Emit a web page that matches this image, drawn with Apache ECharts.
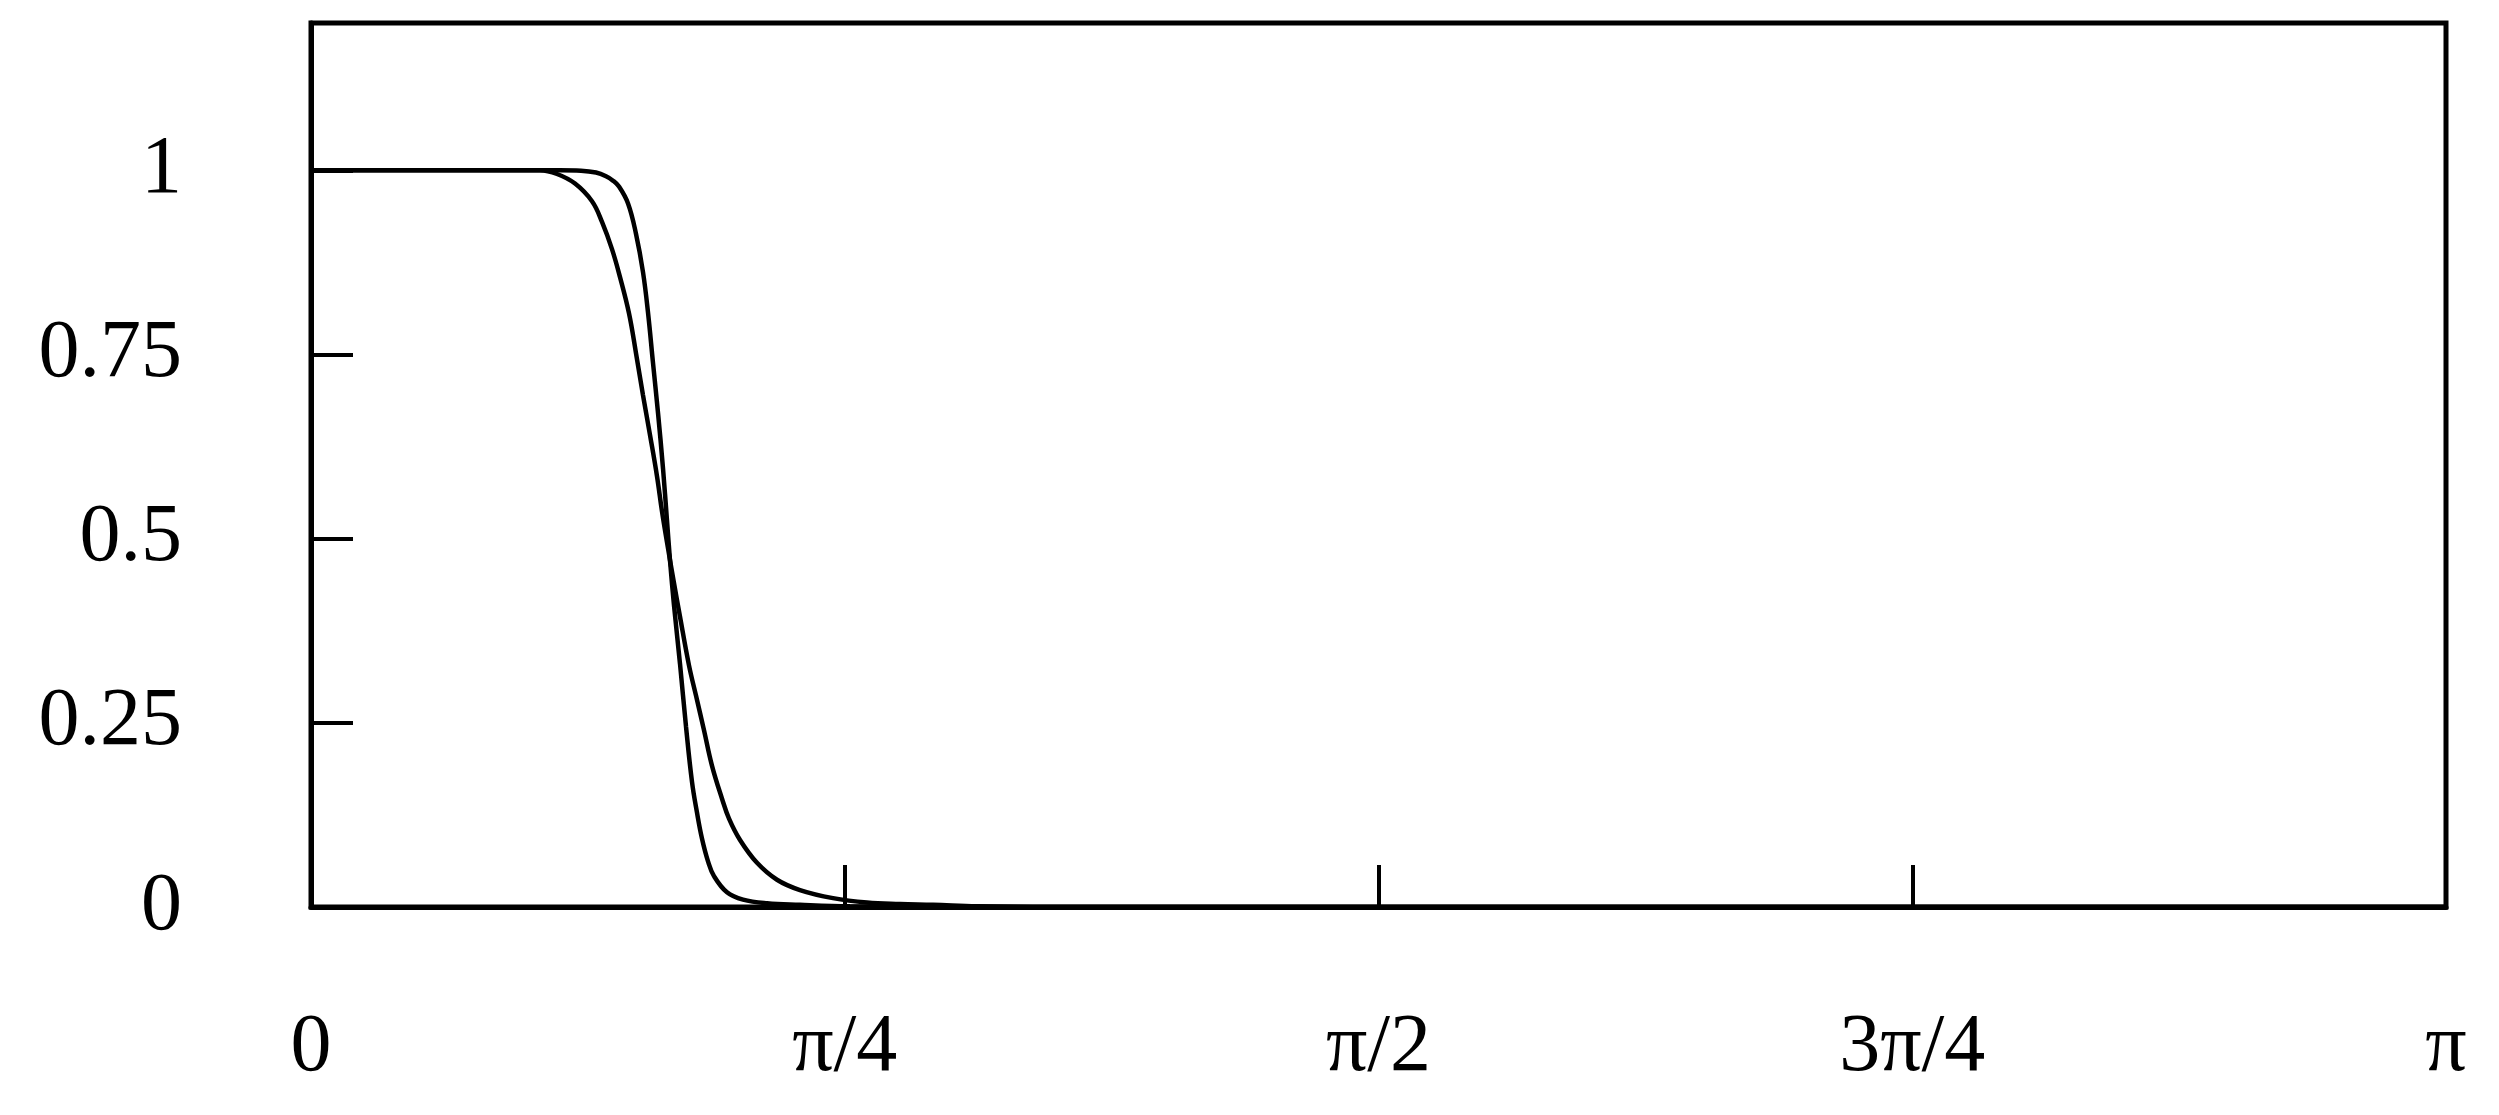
<!DOCTYPE html>
<html>
<head>
<meta charset="utf-8">
<script src="https://cdn.jsdelivr.net/npm/echarts@6/dist/echarts.min.js"></script>
<style>
html,body{margin:0;padding:0;background:#fff;}
#chart{width:2499px;height:1115px;}
</style>
</head>
<body>
<div id="chart"></div>
<script>
// x values in radians, y values
const steepX = [0, 0.3664, 0.3973, 0.4194, 0.4341, 0.4444, 0.4532, 0.4665, 0.4782, 0.4885, 0.4959, 0.5032, 0.5106, 0.5180, 0.5238, 0.5283, 0.5341, 0.5430, 0.5518, 0.5606, 0.5680, 0.5753, 0.5842, 0.5930, 0.6121, 0.6357, 0.6710, 0.7195, 0.7931, 0.9403, 3.1416];
const steepY = [1, 1, 0.9995, 0.997, 0.992, 0.986, 0.978, 0.955, 0.914, 0.862, 0.807, 0.739, 0.671, 0.595, 0.525, 0.470, 0.410, 0.330, 0.245, 0.170, 0.128, 0.093, 0.062, 0.042, 0.020, 0.010, 0.005, 0.003, 0.001, 0, 0];
const gentleX = [0, 0.3370, 0.3620, 0.3885, 0.4135, 0.4282, 0.4429, 0.4547, 0.4679, 0.4782, 0.4885, 0.4988, 0.5091, 0.5165, 0.5253, 0.5341, 0.5430, 0.5562, 0.5665, 0.5783, 0.5900, 0.6048, 0.6151, 0.6313, 0.6563, 0.6857, 0.7195, 0.7681, 0.8181, 0.8667, 0.9153, 0.98, 1.087, 3.1416];
const gentleY = [1, 1, 0.995, 0.982, 0.958, 0.930, 0.893, 0.855, 0.806, 0.752, 0.695, 0.641, 0.585, 0.537, 0.487, 0.440, 0.394, 0.328, 0.287, 0.240, 0.192, 0.147, 0.120, 0.091, 0.060, 0.037, 0.023, 0.012, 0.006, 0.004, 0.003, 0.001, 0, 0];
const xTickValues = [0, Math.PI / 4, Math.PI / 2, 3 * Math.PI / 4, Math.PI];
const xTickLabels = ['0', 'π/4', 'π/2', '3π/4', 'π'];
const yTickValues = [0, 0.25, 0.5, 0.75, 1];
const yTickLabels = ['0', '0.25', '0.5', '0.75', '1'];

const zip = (xs, ys) => xs.map((x, i) => [x, ys[i]]);
const FONT = '"Liberation Serif", "DejaVu Serif", serif';

const chart = echarts.init(document.getElementById('chart'), null, {renderer: 'canvas'});
chart.setOption({
  animation: false,
  backgroundColor: '#fff',
  grid: {left: 311, right: 53, top: 23, bottom: 208, show: true, borderColor: '#000', borderWidth: 5, backgroundColor: 'transparent'},
  xAxis: {
    type: 'value', min: 0, max: Math.PI,
    axisLine: {show: true, lineStyle: {color: '#000', width: 5}},
    axisTick: {show: true, inside: true, length: 42, lineStyle: {color: '#000', width: 4}, customValues: xTickValues},
    axisLabel: {
      customValues: xTickValues, color: '#000', fontFamily: FONT, fontSize: 82, margin: 100,
      formatter: function (v) {
        for (let i = 0; i < xTickValues.length; i++) if (Math.abs(v - xTickValues[i]) < 1e-6) return xTickLabels[i];
        return '';
      }
    },
    splitLine: {show: false}
  },
  yAxis: {
    type: 'value', min: 0, max: 1.2,
    axisLine: {show: true, lineStyle: {color: '#000', width: 5}},
    axisTick: {show: true, inside: true, length: 42, lineStyle: {color: '#000', width: 4}, customValues: yTickValues},
    axisLabel: {
      customValues: yTickValues, color: '#000', fontFamily: FONT, fontSize: 82, margin: 129,
      padding: [0, 0, 44, 0],
      formatter: function (v) {
        for (let i = 0; i < yTickValues.length; i++) if (Math.abs(v - yTickValues[i]) < 1e-6) return yTickLabels[i];
        return '';
      }
    },
    splitLine: {show: false}
  },
  series: [
    {type: 'line', data: zip(steepX, steepY), showSymbol: false, smooth: 0.4, lineStyle: {color: '#000', width: 4.5}},
    {type: 'line', data: zip(gentleX, gentleY), showSymbol: false, smooth: 0.4, lineStyle: {color: '#000', width: 4.5}}
  ]
});
</script>
</body>
</html>
